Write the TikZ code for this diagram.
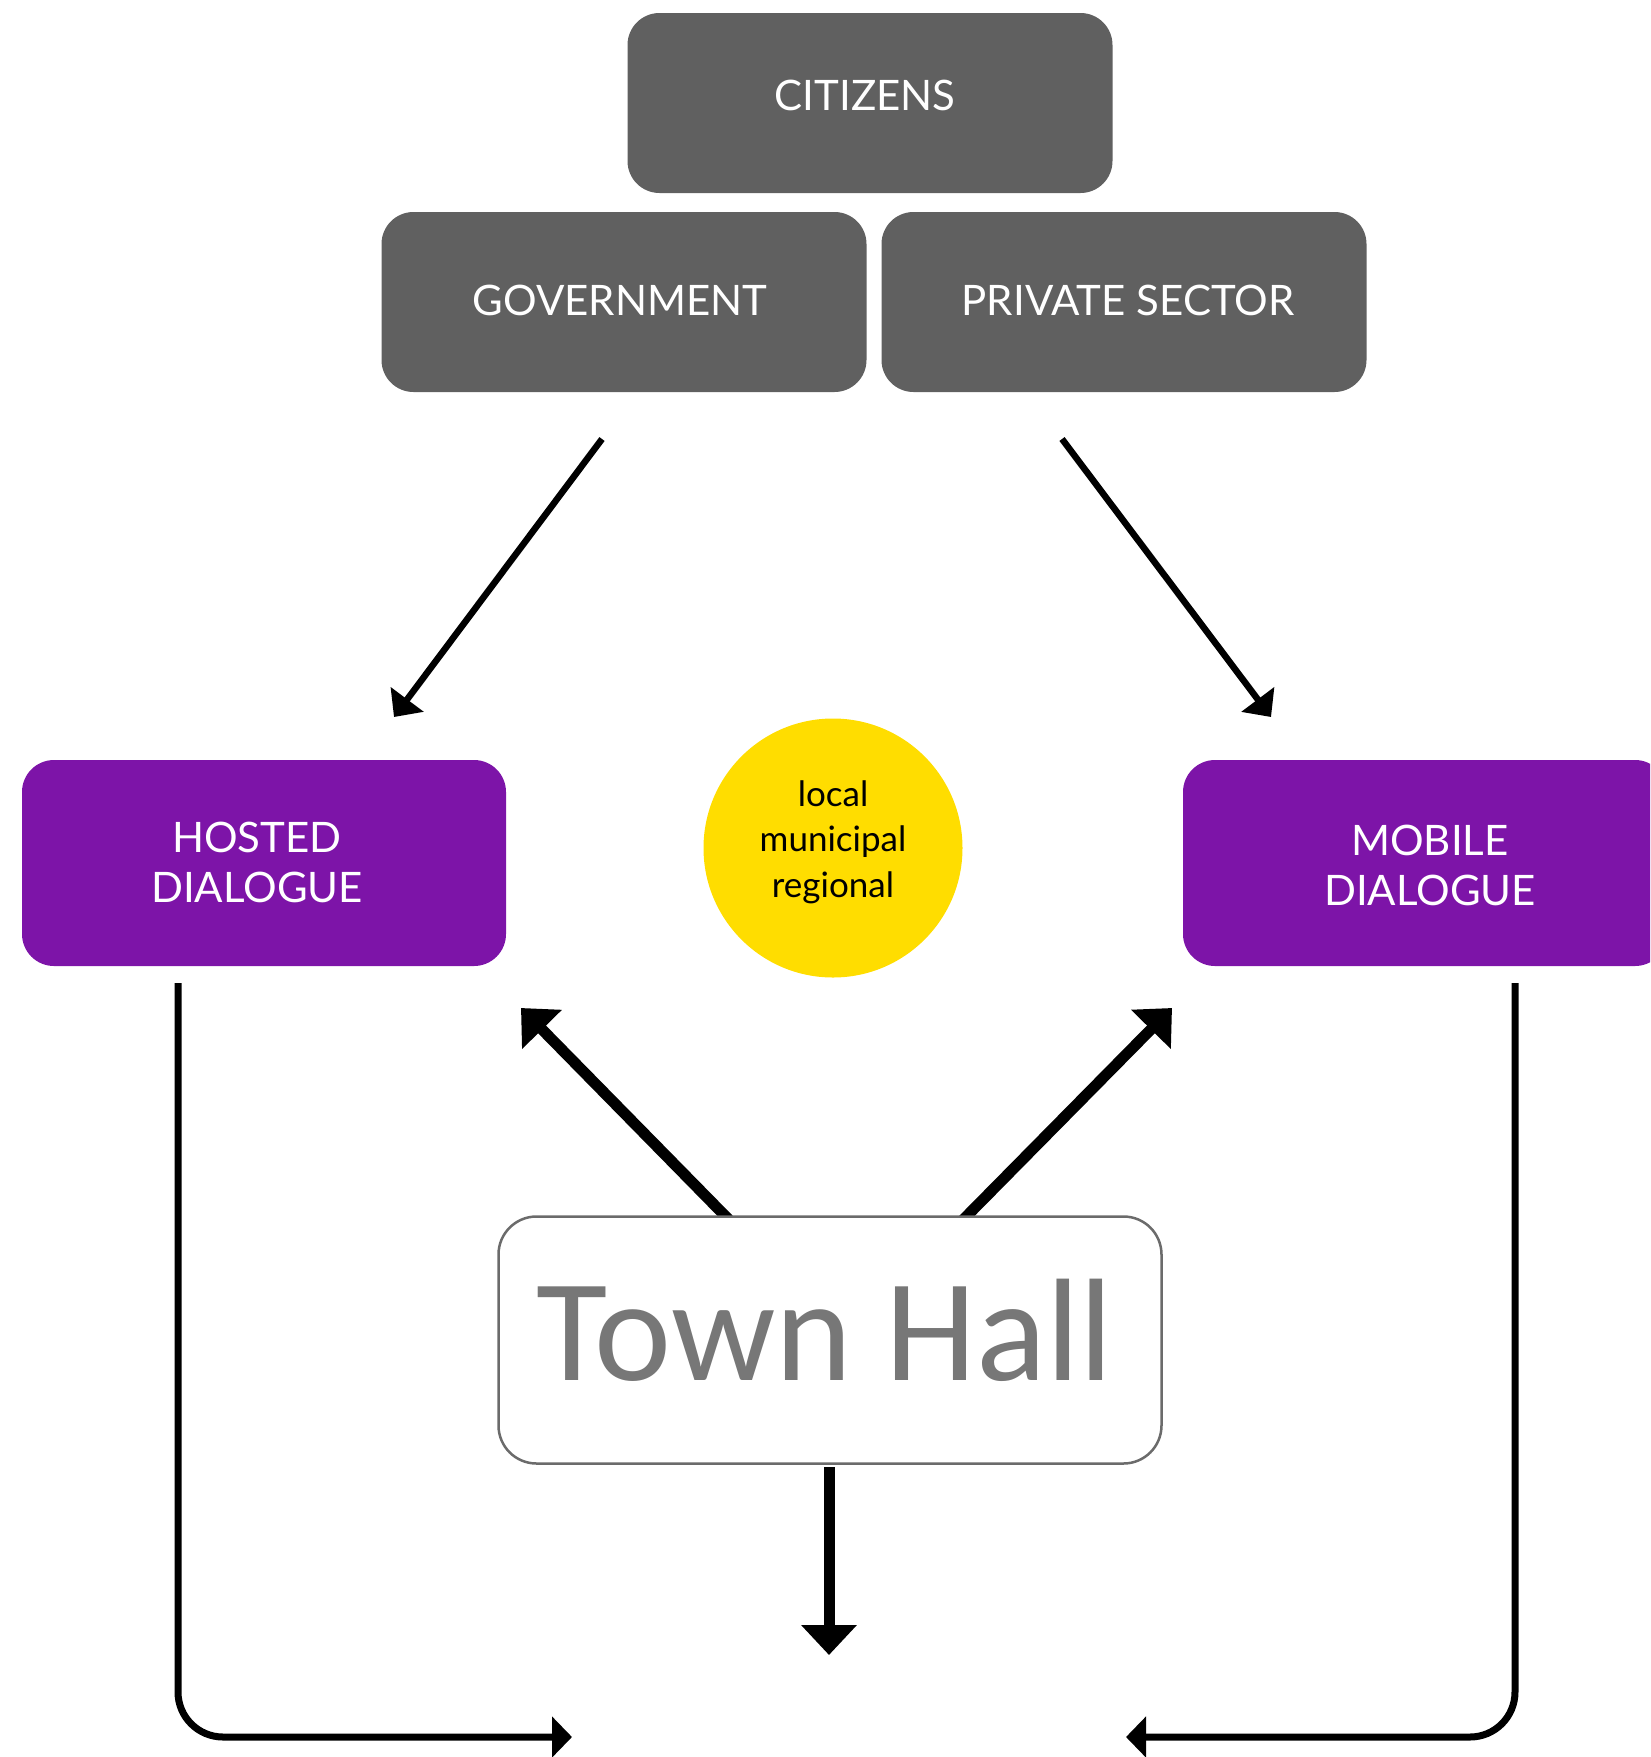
\documentclass[tikz,border=0pt]{standalone}
\usepackage{fontspec}
\setmainfont{Lato}
\newfontfamily\thfont{Carlito}
\usetikzlibrary{arrows.meta}
\definecolor{boxgray}{HTML}{606060}
\definecolor{purp}{HTML}{7D14A8}
\definecolor{yel}{HTML}{FFDD00}
\definecolor{thgray}{HTML}{777777}
\definecolor{thborder}{HTML}{6B6B6B}
\begin{document}
\begin{tikzpicture}[x=1pt,y=-1pt,
 graybox/.style={fill=boxgray, rounded corners=32pt, minimum width=485pt, minimum height=180pt, inner sep=0pt},
 purpbox/.style={fill=purp, rounded corners=32pt, minimum width=484pt, minimum height=206pt, inner sep=0pt},
 captxt/.style={text=white, font=\fontsize{42}{42}\selectfont, inner sep=0pt},
 dlgtxt/.style={text=white, font=\fontsize{42}{50}\selectfont, align=center, inner sep=0pt},
 thinarrow/.style={line width=6.5pt, -{Triangle[length=22pt,width=40pt]}},
 thickarrow/.style={line width=11pt, -{Triangle[length=30pt,width=54pt]}},
 bracket/.style={line width=7pt, rounded corners=45pt, -{Triangle[length=20pt,width=40pt]}},
]
\useasboundingbox (0,0) rectangle (1650,1757);
\clip (0,0) rectangle (1650,1757);

% top boxes
\node[graybox] (cit) at (870,103) {};
\node[captxt] (citT) at (865,95) {CITIZENS};
\node[graybox] (gov) at (624,302) {};
\node[captxt] (govT) at (620,300) {GOVERNMENT};
\node[graybox] (priv) at (1124,302) {};
\node[captxt] (privT) at (1128,300) {PRIVATE SECTOR};

% dialogue boxes
\node[purpbox] (host) at (264,863) {};
\node[dlgtxt] (hostT) at (257,862) {HOSTED\\DIALOGUE};
\node[purpbox] (mob) at (1425,863) {};
\node[dlgtxt] (mobT) at (1430,865) {MOBILE\\DIALOGUE};

% circle
\node[circle, fill=yel, minimum size=259pt, inner sep=0pt] (circ) at (833,848) {};
\node[font=\fontsize{35}{45.5}\selectfont, align=center, inner sep=0pt] (circT) at (833,842) {local\\municipal\\regional};

% arrows from top
\coordinate (g1) at (602,439); \coordinate (g2) at (394,717);
\coordinate (p1) at (1062,439); \coordinate (p2) at (1271,717);
\draw[thinarrow] (g1) -- (g2);
\draw[thinarrow] (p1) -- (p2);

% arrows from town hall
\coordinate (t1) at (741,1232); \coordinate (t2) at (521,1008);
\coordinate (t3) at (951,1232); \coordinate (t4) at (1172,1008);
\draw[thickarrow] (t1) -- (t2);
\draw[thickarrow] (t3) -- (t4);

% town hall
\node[draw=thborder, line width=2.5pt, rounded corners=38pt, minimum width=663pt, minimum height=247pt, fill=white, inner sep=0pt] (th) at (830,1340) {};
\node[text=thgray, font=\thfont\fontsize{146}{146}\selectfont, inner sep=0pt] (thT) at (825,1330) {Town Hall};

\coordinate (d1) at (829,1467); \coordinate (d2) at (829,1655);
\draw[thickarrow] (d1) -- (d2);

% brackets
\coordinate (l1) at (178,983); \coordinate (lc) at (178,1737); \coordinate (l2) at (572,1737);
\coordinate (r1) at (1515,983); \coordinate (rc) at (1515,1737); \coordinate (r2) at (1126,1737);
\draw[bracket] (l1) -- (lc) -- (l2);
\draw[bracket] (r1) -- (rc) -- (r2);
\end{tikzpicture}
\end{document}
